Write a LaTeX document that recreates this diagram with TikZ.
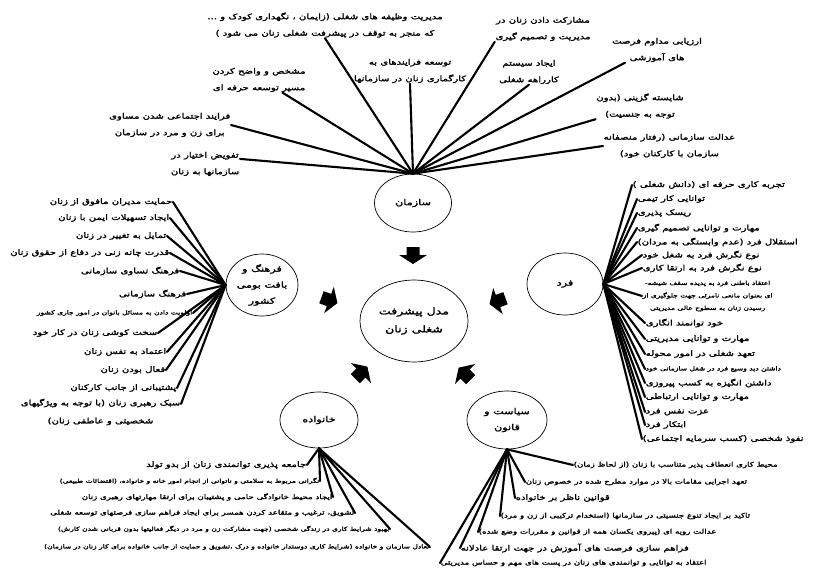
\documentclass[tikz,border=0pt]{standalone}
\usepackage{fontspec}
\newfontfamily\fa[Script=Arabic,FakeStretch=1.35,FakeBold=2]{DejaVu Sans}
\TeXXeTstate=1
\usetikzlibrary{shapes.geometric,calc}
\newcommand\RL[1]{\beginR#1\endR}
\newcommand\blockarrow[2]{\fill[black,shift={#1},rotate=#2] (-8,-6.5) -- (0,-6.5) -- (0,-14) -- (9,0) -- (0,14) -- (0,6.5) -- (-8,6.5) -- cycle;}
\begin{document}
\begin{tikzpicture}[x=1pt,y=-1pt,
  lbl/.style={font=\fa\fontsize{7.5}{16.5}\selectfont, inner sep=0.5pt, align=center},
  mid/.style={font=\fa\fontsize{6.4}{8}\selectfont, inner sep=0.5pt},
  sml/.style={font=\fa\fontsize{5.6}{12.5}\selectfont, inner sep=0.5pt, align=center},
  circ/.style={ellipse, draw, line width=0.7pt, inner sep=0, font=\fa\fontsize{8.3}{16}\selectfont, align=center},
  fan/.style={line width=2.1pt, line cap=round}
]
\useasboundingbox (0,0) rectangle (816,570);
\fill[white] (0,0) rectangle (816,570);

% central and factor circles
\node[circ, minimum width=108pt, minimum height=82pt, font=\fa\fontsize{9.3}{18}\selectfont] (mdl) at (414,321) {\RL{مدل پیشرفت}\\\RL{شغلی زنان}};
\node[circ, minimum width=77pt, minimum height=58pt] (saz) at (413,203) {\RL{سازمان}};
\node[circ, minimum width=76pt, minimum height=62pt] (fard) at (565,284) {\RL{فرد}};
\node[circ, minimum width=72pt, minimum height=62pt] (farh) at (262,285) {\RL{فرهنگ و}\\\RL{بافت بومی}\\\RL{کشور}};
\node[circ, minimum width=78pt, minimum height=56pt] (khan) at (319,420) {\RL{خانواده}};
\node[circ, minimum width=80pt, minimum height=58pt] (sias) at (507,420) {\RL{سیاست و}\\\RL{قانون}};

% block arrows
\blockarrow{(413,255)}{-90}
\blockarrow{(329,300)}{-20}
\blockarrow{(498,301)}{200}
\blockarrow{(361,373)}{45}
\blockarrow{(465,374)}{135}

% ---------- top fan (sazman)
\coordinate (hS) at (saz.north);
\node[lbl] (t1) at (325,25) {\RL{مدیریت وظیفه های شغلی (زایمان ، نگهداری کودک و ...}\\\RL{که منجر به توقف در پیشرفت شغلی زنان می شود )}};
\node[lbl] (t2) at (410,71) {\RL{توسعه فرایندهای به}\\\RL{کارگماری زنان در سازمانها}};
\node[lbl] (t3) at (259,80) {\RL{مشخص و واضح کردن}\\\RL{مسیر توسعه حرفه ای}};
\node[lbl, anchor=east] (t4) at (231,125) {\RL{فرایند اجتماعی شدن مساوی}\\\RL{برای زن و مرد در سازمان}};
\node[lbl, anchor=east] (t5) at (240,164) {\RL{تفویض اختیار در}\\\RL{سازمانها به زنان}};
\node[lbl] (t6) at (543,29) {\RL{مشارکت دادن زنان در}\\\RL{مدیریت و تصمیم گیری}};
\node[lbl] (t7) at (529,72) {\RL{ایجاد سیستم}\\\RL{کارراهه شغلی}};
\node[lbl] (t8) at (657,50) {\RL{ارزیابی مداوم فرصت}\\\RL{های آموزشی}};
\node[lbl] (t9) at (640,106) {\RL{شایسته گزینی (بدون}\\\RL{توجه به جنسیت)}};
\node[lbl, anchor=west] (t10) at (603,146) {\RL{عدالت سازمانی (رفتار منصفانه}\\\RL{سازمان با کارکنان خود)}};
\draw[fan] (t1.south) -- (hS);
\draw[fan] (t2.south) -- (hS);
\draw[fan] ($(t3.south)!0.5!(t3.south east)$) -- (hS);
\draw[fan] (t4.east) -- (hS);
\draw[fan] ($(t5.north east)!0.3!(t5.south east)$) -- (hS);
\draw[fan] (t6.south west) -- (hS);
\draw[fan] (t7.south) -- (hS);
\draw[fan] ($(t8.south west)!0.3!(t8.south)$) -- (hS);
\draw[fan] (t9.south west) -- (hS);
\draw[fan] (t10.west) -- (hS);

% ---------- left fan (farhang)
\coordinate (hF) at (farh.west);
\node[lbl, anchor=east] (l1) at (173,202) {\RL{حمایت مدیران مافوق از زنان}};
\node[lbl, anchor=east] (l2) at (170,218) {\RL{ایجاد تسهیلات ایمن با زنان}};
\node[lbl, anchor=east] (l3) at (167,236) {\RL{تمایل به تغییر در زنان}};
\node[lbl, anchor=east] (l4) at (170,253) {\RL{قدرت چانه زنی در دفاع از حقوق زنان}};
\node[lbl, anchor=east] (l5) at (180,271) {\RL{فرهنگ تساوی سازمانی}};
\node[lbl, anchor=east] (l6) at (187,294) {\RL{فرهنگ سازمانی}};
\node[sml, anchor=east] (l7) at (193,313) {\RL{اولویت دادن به مسائل بانوان در امور جاری کشور}};
\node[lbl, anchor=east] (l8) at (158,333) {\RL{سخت کوشی زنان در کار خود}};
\node[lbl, anchor=east] (l9) at (167,352) {\RL{اعتماد به نفس زنان}};
\node[lbl, anchor=east] (l10) at (166,370) {\RL{فعال بودن زنان}};
\node[lbl, anchor=east] (l11) at (177,388) {\RL{پشتیبانی از جانب کارکنان}};
\node[lbl, anchor=north east, font=\fa\fontsize{7.5}{18}\selectfont] (l12) at (181,398) {\RL{سبک رهبری زنان (با توجه به ویژگیهای}\\\RL{شخصیتی و عاطفی زنان)}};
\foreach \n in {l1,l2,l3,l4,l5,l6,l7,l8,l9,l10,l11} \draw[fan] (\n.east) -- (hF);
\draw[fan] ($(l12.north east)+(0,6)$) -- (hF);

% ---------- right fan (fard)
\coordinate (hR) at (fard.east);
\node[lbl, anchor=west] (r1) at (632,185) {\RL{تجربه کاری حرفه ای (دانش شغلی )}};
\node[lbl, anchor=west] (r2) at (637,199) {\RL{توانایی کار تیمی}};
\node[lbl, anchor=west] (r3) at (637,213) {\RL{ریسک پذیری}};
\node[lbl, anchor=west] (r4) at (637,228) {\RL{مهارت و توانایی تصمیم گیری}};
\node[lbl, anchor=west] (r5) at (637,242) {\RL{استقلال فرد (عدم وابستگی به مردان)}};
\node[lbl, anchor=west] (r6) at (642,255) {\RL{نوع نگرش فرد به شغل خود}};
\node[lbl, anchor=west] (r7) at (642,268) {\RL{نوع نگرش فرد به ارتقا کاری}};
\node[sml, anchor=west] (r8) at (642,296) {\RL{اعتقاد باطنی فرد به پدیده سقف شیشه-}\\\RL{ای بعنوان مانعی نامرئی جهت جلوگیری از}\\\RL{رسیدن زنان به سطوح عالی مدیریتی}};
\node[lbl, anchor=west] (r9) at (645,323) {\RL{خود توانمند انگاری}};
\node[lbl, anchor=west] (r10) at (645,339) {\RL{مهارت و توانایی مدیریتی}};
\node[lbl, anchor=west] (r11) at (645,354) {\RL{تعهد شغلی در امور محوله}};
\node[sml, anchor=west] (r12) at (645,369) {\RL{داشتن دید وسیع فرد در شغل سازمانی خود}};
\node[lbl, anchor=west] (r13) at (645,383) {\RL{داشتن انگیزه به کسب پیروزی}};
\node[lbl, anchor=west] (r14) at (645,397) {\RL{مهارت و توانایی ارتباطی}};
\node[lbl, anchor=west] (r15) at (645,412) {\RL{عزت نفس فرد}};
\node[lbl, anchor=west] (r16) at (645,425) {\RL{ابتکار فرد}};
\node[lbl, anchor=west] (r17) at (642,439) {\RL{نفوذ شخصی (کسب سرمایه اجتماعی)}};
\foreach \n in {r1,r2,r3,r4,r5,r6,r7,r8,r9,r10,r11,r12,r13,r14,r15,r16,r17} \draw[fan] (\n.west) -- (hR);

% ---------- bottom-left fan (khanevade)
\coordinate (hK) at (khan.south);
\node[lbl, anchor=east] (b1) at (307,465) {\RL{جامعه پذیری توانمندی زنان از بدو تولد}};
\node[sml, anchor=east] (b2) at (320,481) {\RL{نگرانی مربوط به سلامتی و ناتوانی از انجام امور خانه و خانواده، (اقتضائات طبیعی)}};
\node[mid, anchor=east] (b3) at (333,497) {\RL{ایجاد محیط خانوادگی حامی و پشتیبان برای ارتقا مهارتهای رهبری زنان}};
\node[mid, anchor=east] (b4) at (355,513) {\RL{تشویق، ترغیب و متقاعد کردن همسر برای ایجاد فراهم سازی فرصتهای توسعه شغلی}};
\node[sml, anchor=east] (b5) at (390,529) {\RL{بهبود شرایط کاری در زندگی شخصی (جهت مشارکت زن و مرد در دیگر فعالیتها بدون قربانی شدن کارش)}};
\node[sml, anchor=east] (b6) at (430,547) {\RL{تعادل سازمان و خانواده (شرایط کاری دوستدار خانواده و درک ،تشویق و حمایت از جانب خانواده برای کار زنان در سازمان)}};
\foreach \n in {b1,b2,b3,b4,b5,b6} \draw[fan] (\n.east) -- (hK);

% ---------- bottom-right fan (siasat)
\coordinate (hP) at (sias.south);
\node[mid, anchor=west] (p1) at (573,465) {\RL{محیط کاری انعطاف پذیر متناسب با زنان (از لحاظ زمان)}};
\node[mid, anchor=west] (p2) at (525,482) {\RL{تعهد اجرایی مقامات بالا در موارد مطرح شده در خصوص زنان}};
\node[lbl, anchor=west] (p3) at (515,498) {\RL{قوانین ناظر بر خانواده}};
\node[mid, anchor=west] (p4) at (500,516) {\RL{تاکید بر ایجاد تنوع جنسیتی در سازمانها (استخدام ترکیبی از زن و مرد)}};
\node[mid, anchor=west] (p5) at (478,532) {\RL{عدالت رویه ای (پیروی یکسان همه از قوانین و مقررات وضع شده)}};
\node[lbl, anchor=west] (p6) at (460,548) {\RL{فراهم سازی فرصت های آموزش در جهت ارتقا عادلانه}};
\node[mid, anchor=west] (p7) at (440,563) {\RL{اعتقاد به توانایی و توانمندی های زنان در پست های مهم و حساس مدیریتی}};
\foreach \n in {p1,p2,p3,p4,p5,p6,p7} \draw[fan] (\n.west) -- (hP);
\end{tikzpicture}
\end{document}
